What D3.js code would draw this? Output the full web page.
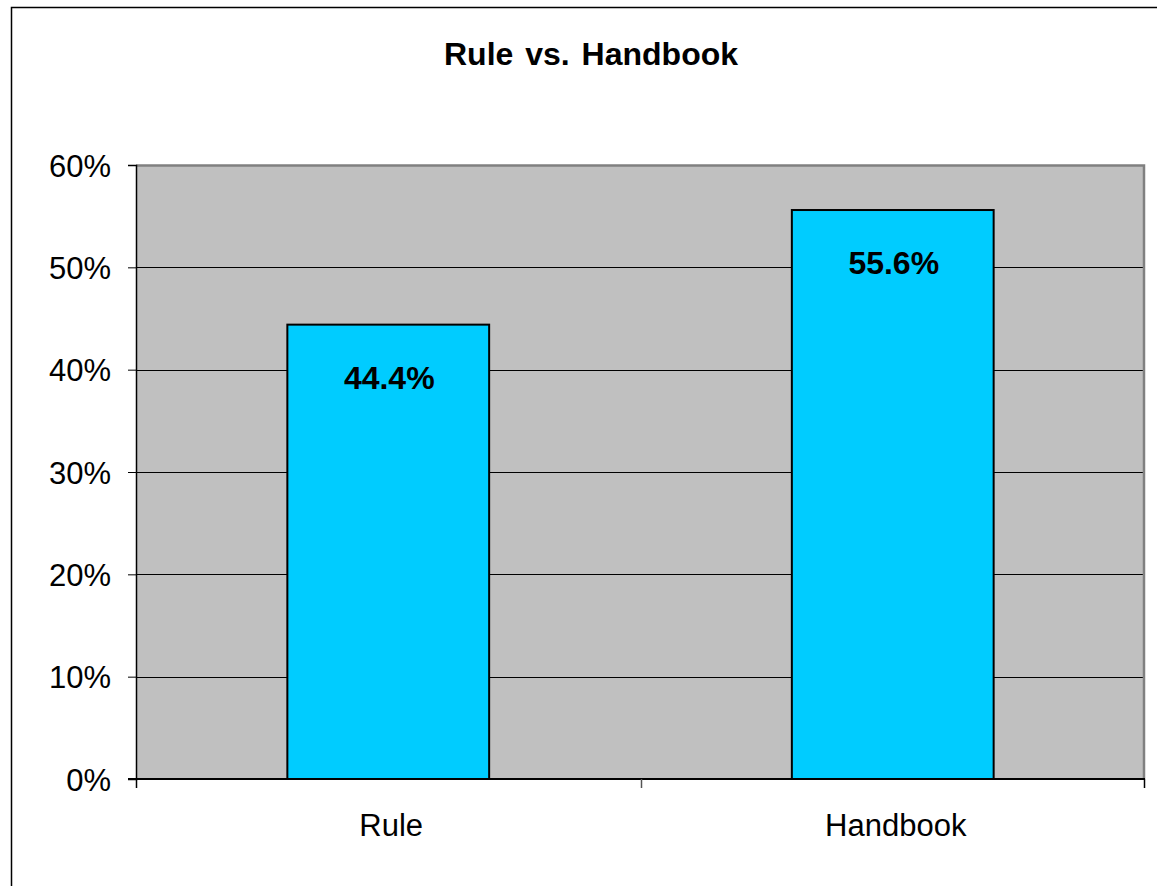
<!DOCTYPE html>
<html>
<head>
<meta charset="utf-8">
<script src="https://cdn.jsdelivr.net/npm/d3@7"></script>
<style>
  html, body { margin: 0; padding: 0; background: #fff; }
  svg { display: block; }
  text { font-family: "Liberation Sans", Arial, sans-serif; fill: #000; }
</style>
</head>
<body>
<svg id="chart" width="1157" height="886"></svg>
<script>
// Chart data
const categories = ["Rule", "Handbook"];
const shares = [44.4, 55.6];
const yTicks = [0, 10, 20, 30, 40, 50, 60];
const chartTitle = "Rule vs. Handbook";

const W = 1157, H = 886;
const plot = { left: 136, right: 1145, top: 165, bottom: 779 };

const svg = d3.select("#chart");

// Outer chart frame
svg.append("rect")
  .attr("x", 11.5).attr("y", 7.5)
  .attr("width", W + 20).attr("height", H + 20)
  .attr("fill", "#fff").attr("stroke", "#000").attr("stroke-width", 1.5);

const x = d3.scaleBand()
  .domain(categories)
  .range([plot.left, plot.right])
  .paddingInner(0.6).paddingOuter(0.3);

const y = d3.scaleLinear().domain([0, 60]).range([plot.bottom, plot.top]);

// Plot area background
svg.append("rect")
  .attr("x", plot.left).attr("y", plot.top)
  .attr("width", plot.right - plot.left).attr("height", plot.bottom - plot.top)
  .attr("fill", "#C0C0C0");

// Horizontal gridlines
svg.append("g")
  .selectAll("line")
  .data(yTicks.filter(t => t > 0 && t < 60))
  .join("line")
  .attr("x1", plot.left).attr("x2", plot.right)
  .attr("y1", d => Math.round(y(d)) + 0.5).attr("y2", d => Math.round(y(d)) + 0.5)
  .attr("stroke", "#000").attr("stroke-width", 1);

// Plot border (top and right)
svg.append("path")
  .attr("d", `M${plot.left},${plot.top + 0.5}H${plot.right - 1}V${plot.bottom}`)
  .attr("fill", "none").attr("stroke", "#808080").attr("stroke-width", 2.5);

// Bars
svg.append("g")
  .selectAll("rect")
  .data(categories)
  .join("rect")
  .attr("x", d => x(d))
  .attr("y", (d, i) => y(shares[i]))
  .attr("width", x.bandwidth())
  .attr("height", (d, i) => y(0) - y(shares[i]))
  .attr("fill", "#00CCFF")
  .attr("stroke", "#000").attr("stroke-width", 2);

// Value labels inside the bars
svg.append("g")
  .selectAll("text")
  .data(categories)
  .join("text")
  .attr("x", d => x(d) + x.bandwidth() / 2 + 1)
  .attr("y", (d, i) => y(shares[i]) + 64)
  .attr("text-anchor", "middle")
  .attr("font-size", 32).attr("font-weight", "bold")
  .text((d, i) => d3.format(".1f")(shares[i]) + "%");

// Y axis
const yAxis = d3.axisLeft(y)
  .tickValues(yTicks)
  .tickFormat(d => d + "%")
  .tickSize(8).tickPadding(17);
const gy = svg.append("g")
  .attr("transform", `translate(${plot.left},0)`)
  .call(yAxis);
gy.select(".domain").attr("stroke", "#000").attr("stroke-width", 1.5);
gy.selectAll(".tick line").attr("stroke", "#000").attr("stroke-width", 1);
gy.selectAll(".tick text")
  .attr("font-size", 31).attr("font-family", "Liberation Sans, Arial, sans-serif")
  .attr("dy", "0.36em").attr("fill", "#000");

// X axis line and category separators
svg.append("line")
  .attr("x1", plot.left - 8).attr("x2", plot.right)
  .attr("y1", plot.bottom).attr("y2", plot.bottom)
  .attr("stroke", "#000").attr("stroke-width", 2);

const bounds = [plot.left, (plot.left + plot.right) / 2, plot.right - 1];
svg.append("g")
  .selectAll("line")
  .data(bounds)
  .join("line")
  .attr("x1", d => Math.round(d) + 0.5).attr("x2", d => Math.round(d) + 0.5)
  .attr("y1", plot.bottom).attr("y2", plot.bottom + 9)
  .attr("stroke", (d, i) => i === 1 ? "#555" : "#000").attr("stroke-width", 1.5);

// Category labels
svg.append("g")
  .selectAll("text")
  .data(categories)
  .join("text")
  .attr("x", d => x(d) + x.bandwidth() / 2 + 3)
  .attr("y", 836)
  .attr("text-anchor", "middle")
  .attr("font-size", 31)
  .text(d => d);

// Title
svg.append("text")
  .attr("x", 591).attr("y", 65)
  .attr("text-anchor", "middle")
  .attr("font-size", 32).attr("font-weight", "bold")
  .attr("word-spacing", 3)
  .text(chartTitle);
</script>
</body>
</html>
